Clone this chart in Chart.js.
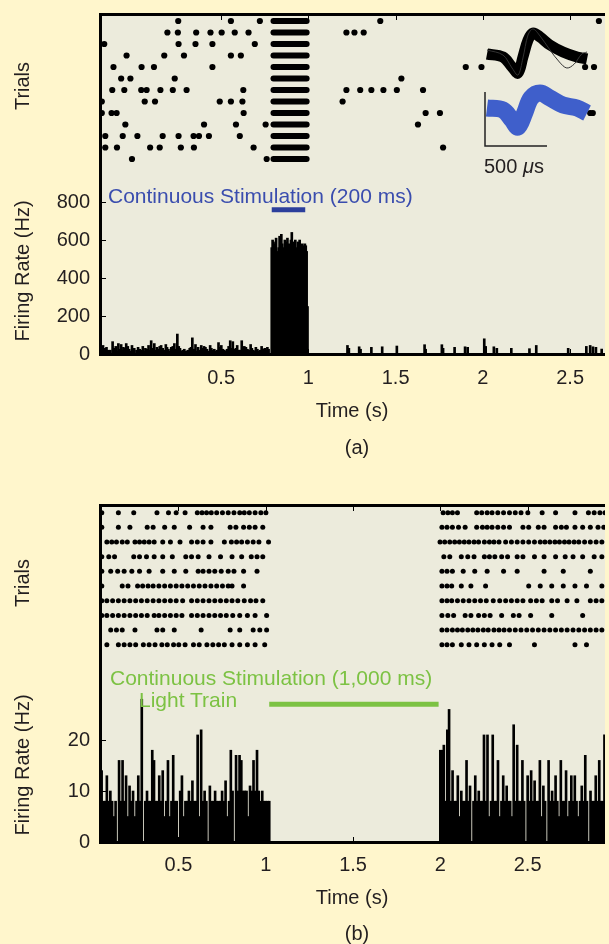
<!DOCTYPE html>
<html><head><meta charset="utf-8">
<script src="https://cdn.jsdelivr.net/npm/chart.js@4.4.1/dist/chart.umd.min.js"></script>
<style>
html,body{margin:0;padding:0;background:#fff6cc;}
body{width:609px;height:944px;position:relative;overflow:hidden;font-family:"Liberation Sans",Arial,Helvetica,sans-serif;color:#231f20;}
canvas{position:absolute;}
.t{position:absolute;white-space:nowrap;font-size:20px;line-height:20px;}
.rot{transform:translate(-50%,-50%) rotate(-90deg);}
.ctr{transform:translate(-50%,-50%);}
</style></head><body>
<canvas id="cA" width="609" height="470" style="left:0;top:0"></canvas>
<canvas id="cB" width="609" height="474" style="left:0;top:470px"></canvas>
<canvas id="cI" width="139" height="140" style="left:470px;top:20px"></canvas>

<div class="t rot" style="left:22px;top:86px">Trials</div>
<div class="t rot" style="left:22px;top:271px">Firing Rate (Hz)</div>
<div class="t ctr" style="left:357px;top:447px">(a)</div>
<div class="t" style="left:108px;top:185px;font-size:21px;line-height:21px;color:#3a4dae">Continuous Stimulation (200 ms)</div>
<div class="t" style="left:484px;top:156px">500&nbsp;<i>μ</i>s</div>

<div class="t rot" style="left:22px;top:583px">Trials</div>
<div class="t rot" style="left:22px;top:765px">Firing Rate (Hz)</div>
<div class="t ctr" style="left:357px;top:933px">(b)</div>
<div class="t" style="left:110px;top:667px;font-size:21px;line-height:21px;color:#7cc243">Continuous Stimulation (1,000 ms)</div>
<div class="t" style="left:139px;top:689px;font-size:21px;line-height:21px;color:#7cc243">Light Train</div>

<script>
// ================= Panel (a) data =================
const xTicksA = [0.5, 1, 1.5, 2, 2.5];
const rateTicksA = [0, 200, 400, 600, 800];
// spike times (s) per trial, outside the stimulation burst
const trialsA = [
  [0.254, 0.556, 0.722, 1.412, 2.665],
  [0.192, 0.252, 0.357, 0.439, 0.503, 0.578, 0.657, 1.218, 1.264, 1.317],
  [-0.170, 0.256, 0.353, 0.450, 0.693],
  [-0.042, 0.174, 0.287, 0.556, 0.613],
  [-0.117, 0.044, 0.115, 0.450, 1.902, 1.992, 2.586, 2.637],
  [-0.073, -0.020, 0.234, 1.533],
  [-0.124, -0.055, 0.042, 0.073, 0.152, 0.223, 0.302, 0.627, 1.218, 1.297, 1.361, 1.430, 1.507, 1.657],
  [-0.184, 0.062, 0.121, 0.492, 0.556, 0.622, 1.196],
  [-0.184, -0.128, -0.099, 0.629, 1.672, 1.754, 2.615, 2.630],
  [-0.049, 0.402, 0.585, 0.755, 1.628],
  [-0.164, -0.064, 0.020, 0.165, 0.256, 0.342, 0.373, 0.430, 0.607],
  [-0.164, -0.097, 0.093, 0.148, 0.269, 0.344, 0.686, 1.772],
  [-0.011, 0.761]
];
const burstA = [0.80, 0.99];          // dense firing during stimulation (every trial)
const stimA = [0.79, 0.982];          // 200 ms stimulation marker
const histPreA_t = [-0.177,-0.166,-0.148,-0.122,-0.104,-0.089,-0.073,-0.060,-0.044,-0.027,-0.011,0.015,0.033,0.051,0.066,0.084,0.099,0.117,0.132,0.148,0.165,0.183,0.198,0.214,0.232,0.249,0.264,0.280,0.298,0.320,0.335,0.353,0.368,0.386,0.402,0.419,0.437,0.452,0.470,0.485,0.501,0.518,0.534,0.552,0.567,0.585,0.600,0.618,0.633,0.651,0.669,0.684,0.699,0.717,0.732,0.750,0.765];
const histPreA_hz = [45,30,20,65,40,55,50,35,55,25,45,20,25,40,30,45,70,55,35,40,30,50,25,35,55,105,30,20,15,30,85,50,35,45,40,25,45,20,15,60,45,20,25,70,65,30,20,70,40,25,50,20,35,15,40,30,35];
const histPreA2_t = [-0.185,-0.171,-0.157,-0.135,-0.113,-0.096,-0.081,-0.067,-0.052,-0.035,-0.019,0.002,0.024,0.042,0.058,0.075,0.091,0.108,0.125,0.140,0.156,0.174,0.190,0.206,0.223,0.240,0.257,0.272,0.289,0.309,0.327,0.344,0.360,0.377,0.394,0.410,0.428,0.444,0.461,0.477,0.493,0.510,0.526,0.543,0.559,0.576,0.592,0.609,0.626,0.642,0.660,0.676,0.691,0.708,0.724,0.741,0.757,0.772];
const histPreA2_hz = [25,15,35,20,30,15,25,20,30,40,15,30,35,20,15,25,20,30,20,25,45,20,35,15,40,25,40,15,25,20,35,25,15,20,30,35,15,30,25,20,35,25,15,40,30,25,45,20,30,35,20,30,15,25,20,25,20,25];
const histStimA_start = 0.790, histStimA_bin = 0.005;
const histStimA_hz = [560,600,590,520,580,610,540,520,560,620,600,630,580,560,540,600,590,560,610,520,580,570,600,640,560,590,540,600,520,560,590,570,600,560,530,580,570,560,580,570,540,250];
const histPostA_t = [1.224,1.232,1.291,1.299,1.361,1.423,1.507,1.666,1.672,1.765,1.772,1.838,1.898,1.913,2.008,2.016,2.063,2.080,2.163,2.267,2.306,2.489,2.593,2.615,2.631,2.648,2.681];
const histPostA_hz = [45,30,38,25,35,38,42,49,25,49,30,35,38,35,80,40,38,30,30,28,45,30,40,45,38,35,26];

// inset waveforms (µs, arbitrary µV units)
const waveBlack_t = [16,145,218,266,306,347,387,444,524,629,742,823];
const waveBlack_v = [26,23,13,7,23,40,47,43,35,28,23,21];
const waveBlackOut_t = [16,145,218,266,306,347,387,444,524,600,660,720,780,823];
const waveBlackOut_v = [30,25,12,5,22,45,51,44,30,18,12,16,26,28];
const waveBlue_t = [16,145,218,266,320,371,444,524,629,742,823];
const waveBlue_v = [-28,-30,-40,-47,-33,-18,-13,-18,-25,-28,-33];
const scaleBar_t = [0, 0, 500];
const scaleBar_v = [-12, -66, -66];

// ================= Panel (b) data =================
const xTicksB = [0.5, 1, 1.5, 2, 2.5];
const rateTicksB = [0, 10, 20];
const trialsB = [
  [0.061,0.156,0.244,0.377,0.443,0.487,0.538,0.608,0.635,0.661,0.688,0.719,0.752,0.785,0.818,0.851,0.877,0.906,0.939,0.972,1.001,2.016,2.043,2.069,2.098,2.208,2.237,2.268,2.296,2.329,2.362,2.396,2.429,2.462,2.501,2.583,2.660,2.771,2.848,2.881,2.914,2.943],
  [0.061,0.156,0.222,0.321,0.355,0.421,0.476,0.564,0.641,0.686,0.796,0.829,0.873,0.906,0.939,0.983,2.009,2.038,2.069,2.104,2.142,2.208,2.241,2.268,2.296,2.329,2.362,2.396,2.473,2.506,2.561,2.594,2.660,2.693,2.722,2.771,2.815,2.859,2.903,2.936],
  [0.090,0.118,0.145,0.178,0.207,0.251,0.277,0.304,0.332,0.361,0.410,0.454,0.509,0.575,0.608,0.641,0.686,0.763,0.803,0.833,0.862,0.895,0.928,0.961,1.016,1.998,2.025,2.054,2.082,2.109,2.137,2.164,2.193,2.219,2.252,2.281,2.307,2.336,2.374,2.407,2.440,2.473,2.506,2.539,2.572,2.599,2.627,2.656,2.682,2.711,2.737,2.766,2.793,2.826,2.859,2.892,2.925],
  [0.061,0.101,0.134,0.244,0.277,0.317,0.361,0.410,0.465,0.542,0.575,0.613,0.675,0.741,0.807,0.862,0.917,0.950,0.983,2.020,2.054,2.120,2.157,2.193,2.252,2.281,2.312,2.351,2.385,2.440,2.473,2.539,2.594,2.660,2.715,2.760,2.815,2.881,2.925],
  [0.061,0.112,0.152,0.189,0.233,0.277,0.332,0.410,0.476,0.542,0.613,0.641,0.675,0.708,0.745,0.785,0.818,0.873,0.950,2.009,2.038,2.069,2.131,2.197,2.268,2.362,2.440,2.594,2.704,2.859],
  [0.061,0.178,0.211,0.266,0.295,0.326,0.355,0.388,0.421,0.454,0.487,0.520,0.553,0.586,0.619,0.652,0.686,0.719,0.752,0.785,0.807,0.873,2.009,2.038,2.065,2.120,2.175,2.259,2.506,2.572,2.638,2.704,2.771,2.837,2.925],
  [0.061,0.090,0.123,0.156,0.189,0.222,0.255,0.288,0.321,0.355,0.388,0.421,0.454,0.487,0.524,0.575,0.608,0.641,0.675,0.708,0.741,0.774,0.807,0.840,0.877,0.913,0.944,0.983,2.009,2.038,2.065,2.098,2.131,2.164,2.197,2.230,2.263,2.303,2.340,2.374,2.407,2.440,2.473,2.517,2.550,2.583,2.638,2.671,2.726,2.782,2.859,2.892,2.925],
  [0.061,0.090,0.123,0.156,0.189,0.222,0.255,0.288,0.321,0.361,0.388,0.421,0.454,0.487,0.520,0.575,0.608,0.641,0.675,0.708,0.741,0.774,0.811,0.851,0.895,0.939,1.005,2.009,2.043,2.076,2.142,2.175,2.219,2.252,2.285,2.351,2.418,2.451,2.517,2.638,2.815],
  [0.112,0.145,0.178,0.251,0.377,0.410,0.476,0.630,0.796,0.851,0.928,0.966,1.005,2.009,2.038,2.069,2.098,2.126,2.157,2.186,2.215,2.246,2.274,2.307,2.336,2.365,2.396,2.429,2.462,2.495,2.528,2.561,2.594,2.627,2.660,2.693,2.726,2.760,2.793,2.826,2.859,2.892,2.925],
  [0.090,0.156,0.189,0.222,0.255,0.299,0.332,0.366,0.405,0.436,0.472,0.502,0.538,0.586,0.619,0.663,0.697,0.730,0.763,0.807,0.851,0.895,0.939,0.994,2.009,2.038,2.069,2.120,2.164,2.208,2.252,2.296,2.340,2.396,2.539,2.771,2.837]
];
const stimB = [1.02, 1.99];           // 1,000 ms light train marker
const histB_bin = 0.01;
const histB1_start = 0.05;
const histB1_hz = [8,14,8,8,13,8,10,8,5,8, 0,16,8,16,8,13,5,11,8,10, 5,8,13,8,28,0,8,10,8,8, 18,16,8,8,13,8,14,5,8,16, 5,8,17,8,8,0,10,13,5,8, 8,10,8,12,8,8,21,5,22,8, 10,8,0,11,8,8,10,8,8,8, 10,8,12,5,8,18,10,0,17,10, 17,16,10,10,10,5,11,10,16,10, 18,10,8,10,8,8,8,8];
const histB2_start = 2.00;
const histB2_hz = [18,18,19,8,22,26,8,14,8,8, 13,5,10,8,8,16,8,11,0,8, 13,8,10,8,8,21,8,21,5,8, 21,8,8,16,5,8,13,8,11,8, 8,5,23,8,19,8,8,16,8,0, 13,8,14,8,12,8,8,16,5,11, 8,0,16,8,10,8,13,8,5,16, 8,8,14,5,8,13,8,13,8,5, 8,11,8,17,8,0,10,8,8,13, 8,16,8,8,21];

// ================= rendering =================
const FONT = '"Liberation Sans", Arial, Helvetica, sans-serif';
const TXT = '#231f20';
const PLOT_BG = '#ecebdc';

const framePlugin = {
  id: 'frame',
  beforeDatasetsDraw(chart) {
    const {ctx, chartArea: a} = chart;
    ctx.save(); ctx.fillStyle = PLOT_BG;
    ctx.fillRect(a.left, a.top, a.right - a.left, a.bottom - a.top);
    ctx.restore();
  },
  afterDatasetsDraw(chart) {
    const {ctx, chartArea: a, scales} = chart;
    ctx.save();
    ctx.fillStyle = '#000';
    ctx.fillRect(a.left, a.top - 1, a.right - a.left, 3);
    ctx.fillRect(a.left, a.top - 1, 3, a.bottom - a.top + 3);
    ctx.fillRect(a.left, a.bottom - 1, a.right - a.left, 3);
    ctx.strokeStyle = '#000'; ctx.lineWidth = 1;
    ctx.beginPath();
    scales.x.ticks.forEach(t => {
      const px = Math.round(scales.x.getPixelForValue(t.value)) + 0.5;
      ctx.moveTo(px, a.top + 2); ctx.lineTo(px, a.top + 6);
      ctx.moveTo(px, a.bottom - 1); ctx.lineTo(px, a.bottom - 5);
    });
    scales.y.ticks.forEach(t => {
      const py = Math.round(scales.y.getPixelForValue(t.value)) + 0.5;
      ctx.moveTo(a.left + 3, py); ctx.lineTo(a.left + 7, py);
    });
    ctx.stroke();
    ctx.restore();
  }
};

function buildPanel(canvasId, cfg) {
  const datasets = [];
  // histogram
  datasets.push({
    type: 'bar', data: cfg.hist, backgroundColor: '#000', borderWidth: 0,
    barThickness: cfg.barThickness, grouped: false, xAxisID: 'x', yAxisID: 'y'
  });
  // raster dots
  const dots = [];
  cfg.trials.forEach((times, i) => times.forEach(t => dots.push({x: t, y: i + 1})));
  datasets.push({
    type: 'scatter', data: dots, xAxisID: 'x', yAxisID: 'yT',
    pointRadius: cfg.dotRadius, pointBackgroundColor: '#000', pointBorderWidth: 0, showLine: false
  });
  // bursts (dense spiking) drawn as round-capped bars per trial
  if (cfg.burst) {
    cfg.trials.forEach((_, i) => {
      datasets.push({
        type: 'line', data: [{x: cfg.burst[0], y: i + 1}, {x: cfg.burst[1], y: i + 1}],
        xAxisID: 'x', yAxisID: 'yT', borderColor: '#000', borderWidth: 6,
        borderCapStyle: 'round', pointRadius: 0, fill: false
      });
    });
  }
  // stimulation marker
  datasets.push({
    type: 'line', data: [{x: cfg.stim[0], y: cfg.stimLevel}, {x: cfg.stim[1], y: cfg.stimLevel}],
    xAxisID: 'x', yAxisID: 'y', borderColor: cfg.stimColor, borderWidth: 5,
    borderCapStyle: 'butt', pointRadius: 0, fill: false
  });

  return new Chart(document.getElementById(canvasId), {
    type: 'scatter',
    data: {datasets},
    options: {
      responsive: false, animation: false, events: [],
      layout: {padding: {top: cfg.padTop, left: 0, right: 0, bottom: 0}},
      plugins: {legend: {display: false}, tooltip: {enabled: false}},
      scales: {
        x: {
          type: 'linear', min: cfg.xMin, max: cfg.xMax, offset: false,
          afterBuildTicks: s => { s.ticks = cfg.xTicks.map(v => ({value: v})); },
          afterFit: s => { s.height = cfg.xHeight; s.paddingLeft = 0; s.paddingRight = 0; s.paddingTop = 0; s.paddingBottom = 0; },
          grid: {display: false, drawTicks: false, tickLength: 0}, border: {display: false},
          ticks: {padding: cfg.xTickPad, maxRotation: 0, autoSkip: false, color: TXT,
                  font: {size: 20, family: FONT}, callback: v => String(v)},
          title: {display: true, text: 'Time (s)', color: TXT, font: {size: 20, family: FONT},
                  padding: {top: 0, bottom: cfg.titlePadBottom}}
        },
        y: {
          type: 'linear', position: 'left', min: 0, max: cfg.rateMax,
          afterBuildTicks: s => { s.ticks = cfg.rateTicks.map(v => ({value: v})); },
          afterFit: s => { s.width = 99; s.paddingTop = 0; s.paddingBottom = 0; s.paddingLeft = 0; s.paddingRight = 0; },
          grid: {display: false, drawTicks: false, tickLength: 0}, border: {display: false},
          ticks: {padding: 9, color: TXT, font: {size: 20, family: FONT}, callback: v => String(v)}
        },
        yT: {type: 'linear', display: false, reverse: true, min: cfg.trialMin, max: cfg.trialMax}
      }
    },
    plugins: [framePlugin]
  });
}

// panel (a) histogram table
const histA = [];
histPreA_t.forEach((t, i) => histA.push({x: t, y: histPreA_hz[i]}));
histPreA2_t.forEach((t, i) => histA.push({x: t, y: histPreA2_hz[i]}));
histStimA_hz.forEach((v, i) => histA.push({x: histStimA_start + i * histStimA_bin, y: v}));
histPostA_t.forEach((t, i) => histA.push({x: t, y: histPostA_hz[i]}));

buildPanel('cA', {
  hist: histA, barThickness: 2, trials: trialsA, dotRadius: 3.1, burst: burstA,
  stim: stimA, stimLevel: 760, stimColor: '#2c3f9c',
  padTop: 14, xMin: -0.2, xMax: 2.7, xTicks: xTicksA, xHeight: 116, xTickPad: 12, titlePadBottom: 47,
  rateMax: 1790, rateTicks: rateTicksA, trialMin: 0.391, trialMax: 29.96
});

// panel (b) histogram table
const histB = [];
histB1_hz.forEach((v, i) => histB.push({x: histB1_start + i * histB_bin, y: v}));
histB2_hz.forEach((v, i) => histB.push({x: histB2_start + i * histB_bin, y: v}));

buildPanel('cB', {
  hist: histB, barThickness: 2, trials: trialsB, dotRadius: 2.5, burst: null,
  stim: stimB, stimLevel: 27, stimColor: '#7cc243',
  padTop: 35, xMin: 0.045, xMax: 2.943, xTicks: xTicksB, xHeight: 102, xTickPad: 11, titlePadBottom: 34,
  rateMax: 66.1, rateTicks: rateTicksB, trialMin: 0.475, trialMax: 23.45
});

// inset: spike waveforms + scale bar
const pts = (ts, vs) => ts.map((t, i) => ({x: t, y: vs[i]}));
new Chart(document.getElementById('cI'), {
  type: 'scatter',
  data: {datasets: [
    {data: pts(waveBlue_t, waveBlue_v), showLine: true, borderColor: '#3f5fcb', borderWidth: 17,
     tension: 0.35, pointRadius: 0, borderCapStyle: 'butt', borderJoinStyle: 'round'},
    {data: pts(waveBlackOut_t, waveBlackOut_v), showLine: true, borderColor: '#333', borderWidth: 1,
     tension: 0.35, pointRadius: 0},
    {data: pts(waveBlack_t, waveBlack_v), showLine: true, borderColor: '#000', borderWidth: 11,
     tension: 0.35, pointRadius: 0, borderCapStyle: 'butt', borderJoinStyle: 'round'},
    {data: pts(scaleBar_t, scaleBar_v), showLine: true, borderColor: '#222', borderWidth: 1.5,
     tension: 0, pointRadius: 0}
  ]},
  options: {
    responsive: false, animation: false, events: [],
    layout: {padding: 0},
    plugins: {legend: {display: false}, tooltip: {enabled: false}},
    scales: {
      x: {type: 'linear', display: false, min: -121, max: 1000},
      y: {type: 'linear', display: false, min: -80, max: 60}
    }
  }
});
</script>
</body></html>
